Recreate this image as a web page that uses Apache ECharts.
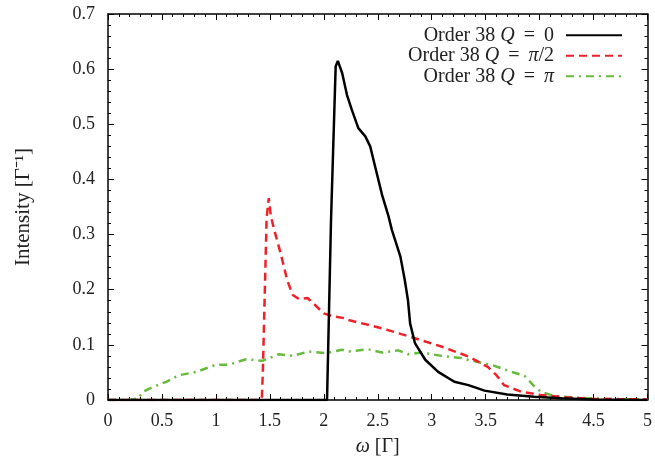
<!DOCTYPE html>
<html>
<head>
<meta charset="utf-8">
<script src="https://cdn.jsdelivr.net/npm/echarts@6/dist/echarts.min.js"></script>
<style>html,body{margin:0;padding:0;background:#fff}#c{width:655px;height:463px}</style>
</head>
<body>
<div id="c"></div>
<script>
var seriesNames = ['Order 38 Q = 0', 'Order 38 Q = \u03c0/2', 'Order 38 Q = \u03c0'];
var xTicks = [0, 0.5, 1, 1.5, 2, 2.5, 3, 3.5, 4, 4.5, 5];
var yTicks = [0, 0.1, 0.2, 0.3, 0.4, 0.5, 0.6, 0.7];

var xQ0 = [0, 1.0, 2.03, 2.067, 2.11, 2.13, 2.17, 2.215, 2.26, 2.32, 2.385, 2.43, 2.476, 2.54, 2.6, 2.63, 2.71, 2.75, 2.78, 2.80, 2.845, 2.94, 3.06, 3.21, 3.34, 3.49, 3.70, 3.95, 4.2, 4.5, 5.0];
var yQ0 = [0, 0, 0, 0.327, 0.605, 0.615, 0.593, 0.553, 0.526, 0.493, 0.478, 0.46, 0.423, 0.372, 0.333, 0.309, 0.26, 0.218, 0.181, 0.139, 0.103, 0.073, 0.051, 0.033, 0.027, 0.017, 0.010, 0.006, 0.003, 0.001, 0];

var xQhalf = [0, 1.0, 1.425, 1.435, 1.47, 1.49, 1.51, 1.54, 1.60, 1.66, 1.71, 1.77, 1.85, 1.92, 2.0, 2.08, 2.2, 2.23, 2.54, 2.845, 3.09, 3.34, 3.52, 3.60, 3.67, 3.83, 4.01, 4.23, 4.5, 5.0];
var yQhalf = [0, 0, 0, 0.05, 0.33, 0.366, 0.333, 0.309, 0.266, 0.218, 0.191, 0.183, 0.185, 0.172, 0.157, 0.152, 0.148, 0.145, 0.13, 0.112, 0.097, 0.079, 0.06, 0.045, 0.027, 0.015, 0.009, 0.005, 0.002, 0.001];

var xQpi = [0, 0.2, 0.28, 0.325, 0.42, 0.54, 0.66, 0.82, 1.0, 1.12, 1.28, 1.43, 1.585, 1.71, 1.86, 2.02, 2.17, 2.23, 2.41, 2.54, 2.69, 2.78, 2.91, 3.09, 3.27, 3.40, 3.55, 3.74, 3.86, 3.94, 4.01, 4.14, 4.35, 4.6, 5.0];
var yQpi = [0, 0, 0.003, 0.015, 0.024, 0.033, 0.045, 0.051, 0.064, 0.064, 0.074, 0.071, 0.083, 0.080, 0.088, 0.085, 0.091, 0.088, 0.092, 0.086, 0.09, 0.083, 0.086, 0.08, 0.076, 0.07, 0.064, 0.051, 0.044, 0.027, 0.015, 0.007, 0.004, 0.002, 0.001];

function pairs(xs, ys) { return xs.map(function (x, i) { return [x, ys[i]]; }); }

var FONT = 'Liberation Serif';
var chart = echarts.init(document.getElementById('c'));

function axisCommon(extra) {
  var o = {
    type: 'value',
    axisLine: { show: true, onZero: false, lineStyle: { color: '#000', width: 1.5 } },
    axisTick: { show: true, inside: true, length: 6, lineStyle: { color: '#000', width: 1 } },
    minorTick: { show: true, splitNumber: 5, length: 3, lineStyle: { color: '#000', width: 1 } },
    splitLine: { show: false },
    axisLabel: { color: '#222', fontFamily: FONT, fontSize: 18 }
  };
  for (var k in extra) o[k] = extra[k];
  return o;
}

var legendFmt = {
  'Order 38 Q = 0': '{n|Order 38 }{i|Q}{n|\u2009 = \u20090}{g| }',
  'Order 38 Q = \u03c0/2': '{n|Order 38 }{i|Q}{n|\u2009 = \u2009}{i|\u03c0}{n|/2}{g| }',
  'Order 38 Q = \u03c0': '{n|Order 38 }{i|Q}{n|\u2009 = \u2009}{i|\u03c0}{g| }'
};

chart.setOption({
  animation: false,
  backgroundColor: '#fff',
  grid: { left: 108, right: 5, top: 14, bottom: 63 },
  legend: {
    data: seriesNames,
    orient: 'vertical',
    right: 27,
    top: 20,
    align: 'right',
    itemWidth: 56,
    itemHeight: 14,
    itemGap: 0,
    itemStyle: { opacity: 0, borderWidth: 0 },
    textStyle: {
      fontFamily: FONT, fontSize: 20, color: '#222', lineHeight: 20.5,
      rich: {
        n: { fontFamily: FONT, fontSize: 20, color: '#222', lineHeight: 20.5 },
        i: { fontFamily: FONT, fontSize: 20, fontStyle: 'italic', color: '#222', lineHeight: 20.5 },
        g: { fontFamily: FONT, fontSize: 20, width: 7, lineHeight: 20.5 }
      }
    },
    formatter: function (name) { return legendFmt[name]; }
  },
  xAxis: [
    axisCommon({
      min: 0, max: 5, interval: 0.5, position: 'bottom',
      name: '{i|\u03c9} [\u0393]', nameLocation: 'middle', nameGap: 37,
      nameTextStyle: { fontFamily: FONT, fontSize: 20, color: '#222',
        rich: { i: { fontFamily: FONT, fontSize: 20, fontStyle: 'italic', color: '#222' } } },
      axisLabel: { color: '#222', fontFamily: FONT, fontSize: 18, margin: 12 }
    }),
    axisCommon({ min: 0, max: 5, interval: 0.5, position: 'top', axisLabel: { show: false } })
  ],
  yAxis: [
    axisCommon({
      min: 0, max: 0.7, interval: 0.1, position: 'left',
      name: 'Intensity [\u0393\u207b\u00b9]', nameLocation: 'middle', nameGap: 74, nameRotate: 90,
      nameTextStyle: { fontFamily: FONT, fontSize: 21, color: '#222' },
      axisLabel: { color: '#222', fontFamily: FONT, fontSize: 18, margin: 13 }
    }),
    axisCommon({ min: 0, max: 0.7, interval: 0.1, position: 'right', axisLabel: { show: false } })
  ],
  series: [
    { name: seriesNames[0], type: 'line', symbol: 'none', data: pairs(xQ0, yQ0), z: 5,
      lineStyle: { color: '#000', width: 2.5 }, itemStyle: { color: '#000' } },
    { name: seriesNames[1], type: 'line', symbol: 'none', data: pairs(xQhalf, yQhalf), z: 4,
      lineStyle: { color: '#f02028', width: 2.5, type: [8, 5] }, itemStyle: { color: '#f02028' } },
    { name: seriesNames[2], type: 'line', symbol: 'none', data: pairs(xQpi, yQpi), z: 3,
      lineStyle: { color: '#66bb3c', width: 2.5, type: [8, 5, 2, 5] }, itemStyle: { color: '#66bb3c' } }
  ]
});
</script>
</body>
</html>
